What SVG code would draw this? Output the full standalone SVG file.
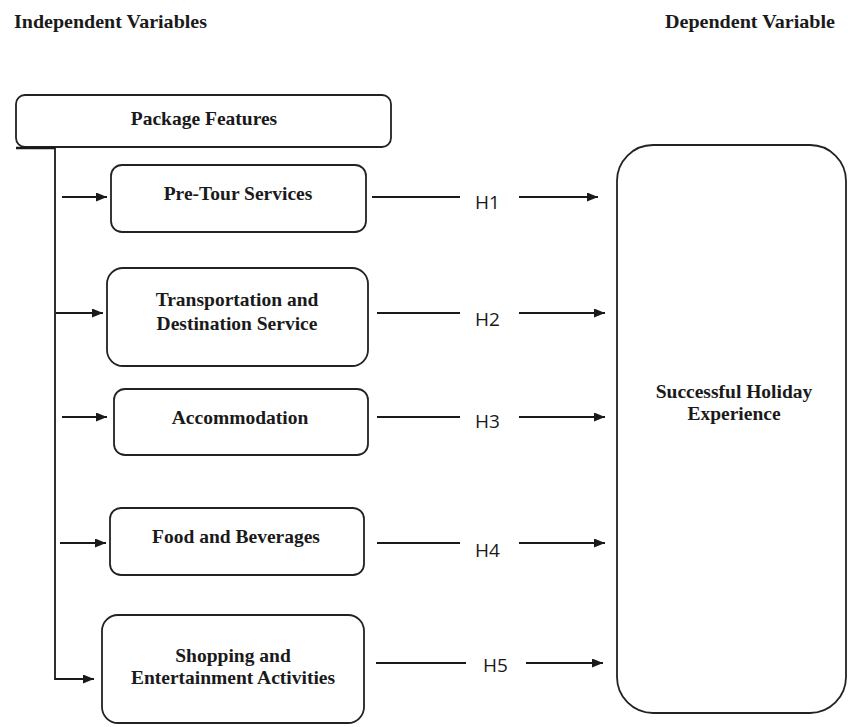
<svg xmlns="http://www.w3.org/2000/svg" width="848" height="727" viewBox="0 0 848 727">
<style>
.box{fill:#fff;stroke:#222;stroke-width:1.8}
.t{font-family:"Liberation Serif","Times New Roman",serif;font-weight:bold;font-size:19.5px;fill:#1a1a1a;text-anchor:middle}
.hd{font-family:"Liberation Serif","Times New Roman",serif;font-weight:bold;font-size:19.5px;fill:#1a1a1a}
.h{font-family:"Open Sans","Liberation Sans",sans-serif;font-size:19px;fill:#1a1a1a}
.ln{fill:none;stroke:#1a1a1a;stroke-width:1.8}
.ar{fill:none;stroke:#1a1a1a;stroke-width:1.8;marker-end:url(#ah)}
</style>
<defs>
<marker id="ah" markerWidth="11" markerHeight="9" refX="11" refY="4.5" orient="auto" markerUnits="userSpaceOnUse">
<path d="M0,0 L11,4.5 L0,9 Z" fill="#1a1a1a"/>
</marker>
</defs>
<g id="headers">
<text class="hd" x="14" y="28" textLength="193" lengthAdjust="spacingAndGlyphs">Independent Variables</text>
<text class="hd" x="665" y="28" textLength="170" lengthAdjust="spacingAndGlyphs">Dependent Variable</text>
</g>
<g id="package-features">
<rect class="box" x="16" y="95" width="375" height="52" rx="9"/>
<text class="t" x="204" y="125">Package Features</text>
</g>
<g id="pre-tour">
<rect class="box" x="111" y="165" width="255" height="67" rx="11"/>
<text class="t" x="238" y="200">Pre-Tour Services</text>
</g>
<g id="transportation">
<rect class="box" x="107" y="268" width="261" height="98" rx="16"/>
<text class="t" x="237" y="306">Transportation and</text>
<text class="t" x="237" y="330">Destination Service</text>
</g>
<g id="accommodation">
<rect class="box" x="114" y="389" width="254" height="66" rx="11"/>
<text class="t" x="240" y="424">Accommodation</text>
</g>
<g id="food">
<rect class="box" x="110" y="508" width="254" height="67" rx="11"/>
<text class="t" x="236" y="543">Food and Beverages</text>
</g>
<g id="shopping">
<rect class="box" x="102" y="615" width="262" height="108" rx="16"/>
<text class="t" x="233" y="662">Shopping and</text>
<text class="t" x="233" y="684">Entertainment Activities</text>
</g>
<g id="successful-holiday">
<rect class="box" x="617" y="145" width="229" height="568" rx="36"/>
<text class="t" x="734" y="398">Successful Holiday</text>
<text class="t" x="734" y="420">Experience</text>
</g>
<g id="connectors">
<path class="ln" d="M16,148 H55" style="stroke-width:2.6"/>
<path class="ar" d="M55,148 V679 H94"/>
<path class="ar" d="M62,197 H107"/>
<path class="ar" d="M56,313 H103"/>
<path class="ar" d="M62,417 H107"/>
<path class="ar" d="M60,543 H106"/>
<path class="ln" d="M372,197 H460"/>
<path class="ar" d="M519,197 H598"/>
<path class="ln" d="M377,313 H460"/>
<path class="ar" d="M519,313 H605"/>
<path class="ln" d="M377,417 H460"/>
<path class="ar" d="M519,417 H605"/>
<path class="ln" d="M377,543 H460"/>
<path class="ar" d="M519,543 H605"/>
<path class="ln" d="M376,663 H466"/>
<path class="ar" d="M526,663 H603"/>
<text class="h" x="475" y="209">H1</text>
<text class="h" x="475" y="326">H2</text>
<text class="h" x="475" y="428">H3</text>
<text class="h" x="475" y="557">H4</text>
<text class="h" x="483" y="672">H5</text>
</g>
</svg>
